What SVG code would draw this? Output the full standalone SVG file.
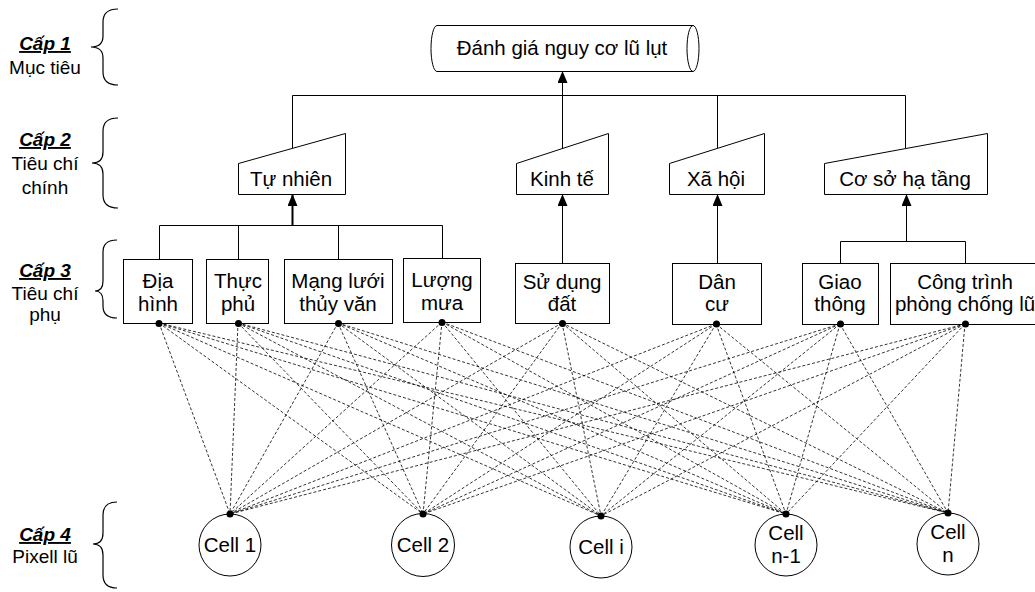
<svg xmlns="http://www.w3.org/2000/svg" width="1035" height="592" viewBox="0 0 1035 592">
<style>
  text { font-family: "Liberation Sans", Arial, sans-serif; fill: #000; }
  .t { font-size: 20.5px; text-anchor: middle; }
  .lv { font-size: 19px; text-anchor: middle; }
  .lvh { font-size: 19px; text-anchor: middle; font-weight: bold; font-style: italic; text-decoration: underline; }
  .shape { fill: #fff; stroke: #000; stroke-width: 1; }
  .brace { fill: none; stroke: #000; stroke-width: 1.2; }
  .conn { fill: none; stroke: #000; stroke-width: 1; }
  .thick { fill: none; stroke: #000; stroke-width: 2; }
  .dash { stroke: #000; stroke-width: 0.8; stroke-dasharray: 3 2; fill: none; }
  .dot { fill: #000; }
</style>
<defs>
  <marker id="arr" markerUnits="userSpaceOnUse" markerWidth="13" markerHeight="11" refX="12" refY="5" orient="auto">
    <path d="M0,0 L12,5 L0,10 z" fill="#000"/>
  </marker>
</defs>
<rect width="1035" height="592" fill="#fff"/>

<g id="levels">
  <path class="brace" d="M118,9 Q103,9 103,22 L103,36 Q103,47 91,47 Q103,47 103,58 L103,72 Q103,85 118,85"/>
  <text class="lvh" x="45" y="50">Cấp 1</text>
  <text class="lv" x="45" y="74">Mục tiêu</text>
  <path class="brace" d="M118,118 Q103,118 103,131 L103,152 Q103,163 92,163 Q103,163 103,174 L103,195 Q103,208 118,208"/>
  <text class="lvh" x="45" y="146">Cấp 2</text>
  <text class="lv" x="45" y="170">Tiêu chí</text>
  <text class="lv" x="45" y="194">chính</text>
  <path class="brace" d="M117,240 Q103,240 103,252 L103,281 Q103,291 95,291 Q103,291 103,301 L103,306 Q103,318 117,318"/>
  <text class="lvh" x="45" y="277">Cấp 3</text>
  <text class="lv" x="45" y="300">Tiêu chí</text>
  <text class="lv" x="45" y="321">phụ</text>
  <path class="brace" d="M117,502 Q103,502 103,515 L103,533 Q103,544 93,544 Q103,544 103,555 L103,575 Q103,588 117,588"/>
  <text class="lvh" x="45" y="541">Cấp 4</text>
  <text class="lv" x="45" y="563">Pixell lũ</text>
</g>

<g id="connectors">
  <path class="conn" d="M292.5,148 V95.5 H905.5 V148"/>
  <path class="conn" d="M717.5,95.5 V148"/>
  <line class="conn" x1="562.5" y1="148" x2="562.5" y2="71" marker-end="url(#arr)"/>
  <path class="conn" d="M159.5,260 V225.5 H442.5 V258"/>
  <path class="conn" d="M238.5,225.5 V260"/>
  <path class="conn" d="M338.5,225.5 V260"/>
  <line class="thick" x1="292.5" y1="225" x2="292.5" y2="194" marker-end="url(#arr)"/>
  <line class="conn" x1="562.5" y1="263" x2="562.5" y2="194" marker-end="url(#arr)"/>
  <line class="conn" x1="717.5" y1="263" x2="717.5" y2="194" marker-end="url(#arr)"/>
  <path class="conn" d="M840.5,263 V241.5 H965.5 V263"/>
  <line class="conn" x1="906.5" y1="241.5" x2="906.5" y2="194" marker-end="url(#arr)"/>
  <g id="dashed">
    <line class="dash" x1="159" y1="323" x2="230" y2="514"/>
    <line class="dash" x1="159" y1="323" x2="423" y2="514"/>
    <line class="dash" x1="159" y1="323" x2="601" y2="516"/>
    <line class="dash" x1="159" y1="323" x2="786" y2="514"/>
    <line class="dash" x1="159" y1="323" x2="948" y2="513"/>
    <line class="dash" x1="238" y1="323" x2="230" y2="514"/>
    <line class="dash" x1="238" y1="323" x2="423" y2="514"/>
    <line class="dash" x1="238" y1="323" x2="601" y2="516"/>
    <line class="dash" x1="238" y1="323" x2="786" y2="514"/>
    <line class="dash" x1="238" y1="323" x2="948" y2="513"/>
    <line class="dash" x1="338" y1="323" x2="230" y2="514"/>
    <line class="dash" x1="338" y1="323" x2="423" y2="514"/>
    <line class="dash" x1="338" y1="323" x2="601" y2="516"/>
    <line class="dash" x1="338" y1="323" x2="786" y2="514"/>
    <line class="dash" x1="338" y1="323" x2="948" y2="513"/>
    <line class="dash" x1="442" y1="322" x2="230" y2="514"/>
    <line class="dash" x1="442" y1="322" x2="423" y2="514"/>
    <line class="dash" x1="442" y1="322" x2="601" y2="516"/>
    <line class="dash" x1="442" y1="322" x2="786" y2="514"/>
    <line class="dash" x1="442" y1="322" x2="948" y2="513"/>
    <line class="dash" x1="562" y1="323" x2="230" y2="514"/>
    <line class="dash" x1="562" y1="323" x2="423" y2="514"/>
    <line class="dash" x1="562" y1="323" x2="601" y2="516"/>
    <line class="dash" x1="562" y1="323" x2="786" y2="514"/>
    <line class="dash" x1="562" y1="323" x2="948" y2="513"/>
    <line class="dash" x1="716" y1="324" x2="230" y2="514"/>
    <line class="dash" x1="716" y1="324" x2="423" y2="514"/>
    <line class="dash" x1="716" y1="324" x2="601" y2="516"/>
    <line class="dash" x1="716" y1="324" x2="786" y2="514"/>
    <line class="dash" x1="716" y1="324" x2="948" y2="513"/>
    <line class="dash" x1="840" y1="324" x2="230" y2="514"/>
    <line class="dash" x1="840" y1="324" x2="423" y2="514"/>
    <line class="dash" x1="840" y1="324" x2="601" y2="516"/>
    <line class="dash" x1="840" y1="324" x2="786" y2="514"/>
    <line class="dash" x1="840" y1="324" x2="948" y2="513"/>
    <line class="dash" x1="965" y1="324" x2="230" y2="514"/>
    <line class="dash" x1="965" y1="324" x2="423" y2="514"/>
    <line class="dash" x1="965" y1="324" x2="601" y2="516"/>
    <line class="dash" x1="965" y1="324" x2="786" y2="514"/>
    <line class="dash" x1="965" y1="324" x2="948" y2="513"/>
  </g>
</g>

<g id="goal">
  <path class="shape" d="M437,25.5 H693 A6,23 0 0 1 693,71.5 H437 A6,23 0 0 1 437,25.5 z"/>
  <path class="conn" d="M693,25.5 A6,23 0 0 0 693,71.5"/>
  <text class="t" x="562" y="55">Đánh giá nguy cơ lũ lụt</text>
</g>

<g id="tu-nhien">
  <path class="shape" d="M238.5,163.5 L345.5,133.5 V194.5 H238.5 z"/>
  <text class="t" x="291" y="186">Tự nhiên</text>
</g>
<g id="kinh-te">
  <path class="shape" d="M516.5,163.5 L608.5,133.5 V194.5 H516.5 z"/>
  <text class="t" x="562" y="186">Kinh tế</text>
</g>
<g id="xa-hoi">
  <path class="shape" d="M669.5,163.5 L764.5,133.5 V194.5 H669.5 z"/>
  <text class="t" x="716" y="186">Xã hội</text>
</g>
<g id="co-so-ha-tang">
  <path class="shape" d="M824.5,163.5 L987.5,133.5 V194.5 H824.5 z"/>
  <text class="t" x="905" y="186">Cơ sở hạ tầng</text>
</g>

<g id="dia-hinh">
  <rect class="shape" x="123.5" y="259.5" width="69" height="64"/>
  <text class="t" x="158" y="288">Địa</text>
  <text class="t" x="158" y="311">hình</text>
  <circle class="dot" cx="159" cy="323.5" r="3.5"/>
</g>
<g id="thuc-phu">
  <rect class="shape" x="206.5" y="259.5" width="62" height="64"/>
  <text class="t" x="238" y="288">Thực</text>
  <text class="t" x="238" y="311">phủ</text>
  <circle class="dot" cx="238.5" cy="323.5" r="3.5"/>
</g>
<g id="mang-luoi-thuy-van">
  <rect class="shape" x="284.5" y="259.5" width="108" height="64"/>
  <text class="t" x="338" y="288">Mạng lưới</text>
  <text class="t" x="338" y="311">thủy văn</text>
  <circle class="dot" cx="338.5" cy="323.5" r="3.5"/>
</g>
<g id="luong-mua">
  <rect class="shape" x="403.5" y="258.5" width="77" height="64"/>
  <text class="t" x="442" y="287">Lượng</text>
  <text class="t" x="442" y="310">mưa</text>
  <circle class="dot" cx="442" cy="322.5" r="3.5"/>
</g>
<g id="su-dung-dat">
  <rect class="shape" x="515.5" y="263.5" width="94" height="60"/>
  <text class="t" x="562" y="289">Sử dụng</text>
  <text class="t" x="562" y="311">đất</text>
  <circle class="dot" cx="562.5" cy="323.5" r="3.5"/>
</g>
<g id="dan-cu">
  <rect class="shape" x="672.5" y="263.5" width="89" height="61"/>
  <text class="t" x="717" y="289">Dân</text>
  <text class="t" x="717" y="311">cư</text>
  <circle class="dot" cx="716.5" cy="324" r="3.5"/>
</g>
<g id="giao-thong">
  <rect class="shape" x="802.5" y="263.5" width="76" height="61"/>
  <text class="t" x="840" y="289">Giao</text>
  <text class="t" x="840" y="311">thông</text>
  <circle class="dot" cx="840.5" cy="324" r="3.5"/>
</g>
<g id="cong-trinh">
  <rect class="shape" x="890.5" y="263.5" width="160" height="61"/>
  <text class="t" x="965" y="289">Công trình</text>
  <text class="t" x="965" y="311">phòng chống lũ</text>
  <circle class="dot" cx="965.5" cy="324" r="3.5"/>
</g>

<g id="cell-1">
  <circle class="shape" cx="230" cy="545" r="31"/>
  <text class="t" x="230" y="552">Cell 1</text>
  <circle class="dot" cx="230" cy="514" r="3.5"/>
</g>
<g id="cell-2">
  <circle class="shape" cx="423" cy="545" r="31.5"/>
  <text class="t" x="423" y="552">Cell 2</text>
  <circle class="dot" cx="423" cy="514" r="3.5"/>
</g>
<g id="cell-i">
  <circle class="shape" cx="601" cy="547" r="31"/>
  <text class="t" x="601" y="554">Cell i</text>
  <circle class="dot" cx="601" cy="516" r="3.5"/>
</g>
<g id="cell-n-1">
  <circle class="shape" cx="786" cy="545" r="31"/>
  <text class="t" x="786" y="540">Cell</text>
  <text class="t" x="786" y="563">n-1</text>
  <circle class="dot" cx="786" cy="514" r="3.5"/>
</g>
<g id="cell-n">
  <circle class="shape" cx="948" cy="544" r="31"/>
  <text class="t" x="948" y="539">Cell</text>
  <text class="t" x="948" y="562">n</text>
  <circle class="dot" cx="948" cy="513" r="3.5"/>
</g>
</svg>
